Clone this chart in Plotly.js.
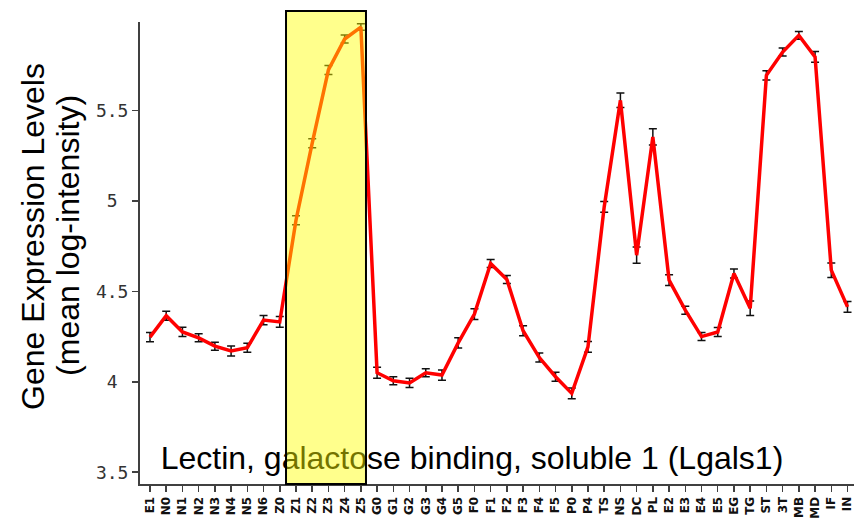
<!DOCTYPE html>
<html><head><meta charset="utf-8">
<script src="https://cdn.plot.ly/plotly-3.0.1.min.js"></script>
<style>html,body{margin:0;padding:0;background:#fff;}#chart{width:854px;height:518px;}</style>
</head><body><div id="chart"></div>
<script>
const categories = ["E1","N0","N1","N2","N3","N4","N5","N6","Z0","Z1","Z2","Z3","Z4","Z5",
  "G0","G1","G2","G3","G4","G5","F0","F1","F2","F3","F4","F5","P0","P4",
  "TS","NS","DC","PL","E2","E3","E4","E5","EG","TG","ST","3T","MB","MD","IF","IN"];
const expression = [4.247,4.365,4.276,4.243,4.197,4.170,4.188,4.341,4.331,4.893,5.319,5.724,5.895,5.961,
  4.050,4.006,3.994,4.050,4.037,4.215,4.374,4.654,4.566,4.282,4.134,4.028,3.936,4.193,
  4.967,5.556,4.700,5.354,4.562,4.396,4.250,4.275,4.599,4.406,5.694,5.823,5.915,5.796,4.617,4.414];
const errorBars = [0.025,0.025,0.025,0.022,0.022,0.028,0.025,0.025,0.030,0.025,0.025,0.025,0.022,0.018,
  0.030,0.022,0.025,0.022,0.028,0.028,0.030,0.022,0.022,0.028,0.025,0.025,0.030,0.030,
  0.030,0.040,0.045,0.045,0.030,0.022,0.022,0.025,0.025,0.040,0.025,0.022,0.022,0.030,0.040,0.030];
const yTickValues = [3.5, 4, 4.5, 5, 5.5];
const yTickLabels = ["3.5", "4\u00a0", "4.5", "5\u00a0", "5.5"];
const geneName = "Lectin, galactose binding, soluble 1 (Lgals1)";
const yTitleLine1 = "Gene Expression Levels";
const yTitleLine2 = "(mean log-intensity)";

const trace = {
  x: categories, y: expression, type: 'scatter', mode: 'lines',
  line: {color: '#ff0000', width: 3.5},
  error_y: {type: 'data', array: errorBars, visible: true, color: '#111', thickness: 1.5, width: 4},
  hoverinfo: 'skip'
};

const layout = {
  width: 854, height: 518,
  margin: {l: 140, r: 0, t: 22, b: 34},
  paper_bgcolor: '#fff', plot_bgcolor: '#fff',
  showlegend: false,
  font: {family: 'Liberation Sans, Arial, sans-serif', color: '#000'},
  xaxis: {
    type: 'category', range: [-0.616, 43.4],
    showline: true, linecolor: '#404040', linewidth: 2,
    ticks: 'outside', ticklen: 6, tickwidth: 1.5, tickcolor: '#404040',
    tickangle: -90, showgrid: false, zeroline: false,
    tickfont: {family: 'DejaVu Sans, sans-serif', size: 12, color: '#111', weight: 'bold'}
  },
  yaxis: {
    range: [3.435, 5.989],
    showline: true, linecolor: '#404040', linewidth: 2,
    ticks: 'outside', ticklen: 6, tickwidth: 1.5, tickcolor: '#404040',
    tickvals: yTickValues, ticktext: yTickLabels,
    showgrid: false, zeroline: false,
    tickfont: {family: 'DejaVu Sans Mono, monospace', size: 18, color: '#333'}
  },
  shapes: [
    {type: 'rect', xref: 'paper', yref: 'paper', x0: 0.02, x1: 0.91, y0: 0.0, y1: 0.125,
     line: {width: 0}, fillcolor: 'rgba(0,0,0,0)', layer: 'above',
     label: {text: geneName, textposition: 'middle center',
             font: {family: 'Liberation Sans, Arial, sans-serif', size: 32, color: '#000'}}},
    {type: 'rect', xref: 'paper', yref: 'paper', x0: 0.2045, x1: 0.3165, y0: 0.0, y1: 1.024,
     line: {color: '#000', width: 2}, fillcolor: 'rgba(255,255,0,0.45)', layer: 'above'}
  ],
  annotations: [
    {text: yTitleLine1, xref: 'paper', yref: 'paper', x: -0.1499, y: 0.537, textangle: -90,
     showarrow: false, xanchor: 'center', yanchor: 'middle',
     font: {family: 'Liberation Sans, Arial, sans-serif', size: 32, color: '#000'}},
    {text: yTitleLine2, xref: 'paper', yref: 'paper', x: -0.1008, y: 0.537, textangle: -90,
     showarrow: false, xanchor: 'center', yanchor: 'middle',
     font: {family: 'Liberation Sans, Arial, sans-serif', size: 32, color: '#000'}}
  ]
};

Plotly.newPlot('chart', [trace], layout, {displayModeBar: false, staticPlot: true});
</script>
</body></html>
